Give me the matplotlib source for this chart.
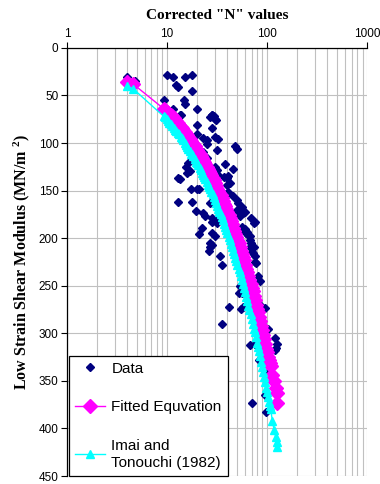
import matplotlib
matplotlib.use("Agg")
import matplotlib.pyplot as plt
from matplotlib.ticker import FixedLocator, LogLocator, NullFormatter

plt.rcParams["font.family"] = ["Liberation Sans", "DejaVu Sans"]
plt.rcParams["mathtext.default"] = "regular"

# measured points (corrected N, low strain shear modulus)
data_n = [4.0, 4.8, 9.9, 11.4, 12.2, 12.8, 15.1, 17.9, 17.9, 14.8, 15.1, 9.4,
          11.6, 19.8, 13.7, 26.9, 28.5, 30.5, 13.5, 30.9, 27.9, 29.5, 20.1, 28.5,
          20.1, 23.0, 24.9, 30.2, 32.6, 25.2, 47.9, 49.7, 31.8, 23.0, 24.9, 16.3,
          38.0, 30.2, 31.8, 45.3, 15.8, 15.6, 16.9, 12.9, 13.5, 39.8, 37.2, 32.6,
          41.0, 42.7, 40.0, 17.5, 19.8, 21.0, 26.9, 30.2, 36.5, 41.0, 46.2, 49.7,
          12.9, 18.0, 26.9, 51.5, 56.0, 19.5, 49.7, 52.8, 60.0, 23.0, 24.0, 28.5,
          53.7, 58.0, 69.8, 75.9, 30.2, 31.8, 28.5, 73.7, 22.2, 56.3, 60.0, 56.0,
          20.7, 28.5, 30.2, 62.4, 61.7, 64.9, 67.9, 67.6, 26.9, 69.8, 27.9, 26.9,
          67.6, 73.7, 26.3, 71.4, 72.8, 33.9, 75.9, 77.6, 75.9, 35.2, 82.0, 85.0,
          53.7, 52.8, 56.0, 95.5, 42.0, 54.9, 58.0, 35.8, 101.6, 67.6, 75.9, 80.0,
          120.0, 126.0, 120.0, 124.0, 83.8, 99.0, 71.4, 97.7, 95.5, 45.0, 50.0,
          65.0, 90.0, 100.0, 105.0, 60.0, 85.0, 33.0, 40.0]
data_g = [31, 35, 28, 31, 39, 41, 31, 28, 45, 55, 59, 55,
          64, 64, 71, 73, 71, 75, 70, 76, 70, 72, 81, 84,
          90, 95, 97, 94, 96, 101, 103, 106, 107, 109, 116, 121,
          122, 125, 128, 127, 132, 125, 129, 137, 138, 137, 136, 134,
          135, 142, 144, 148, 148, 148, 149, 151, 152, 151, 156, 160,
          162, 162, 163, 163, 167, 171, 170, 172, 173, 174, 177, 179,
          177, 174, 179, 183, 181, 184, 183, 184, 189, 188, 190, 191,
          196, 195, 198, 193, 195, 197, 198, 202, 205, 205, 207, 209,
          209, 209, 213, 214, 216, 219, 219, 226, 225, 228, 240, 245,
          250, 258, 258, 273, 272, 274, 272, 290, 295, 312, 311, 313,
          305, 311, 318, 315, 328, 342, 373, 383, 365, 185, 200,
          240, 290, 320, 330, 230, 270, 150, 165]

# fitted equation and Imai & Tonouchi (1982)
curve_n = [4.0, 4.6, 9.3, 9.6, 9.9, 10.2, 10.6, 10.9, 11.2, 11.7, 12.1, 12.4,
           12.8, 13.2, 13.7, 14.1, 14.5, 15.0, 15.6, 16.0, 16.4, 17.0, 17.5, 17.9,
           18.3, 19.0, 19.6, 20.0, 20.5, 21.2, 21.8, 22.4, 23.1, 23.6, 24.2, 25.0,
           25.7, 26.3, 27.0, 27.8, 28.6, 29.3, 30.1, 31.0, 31.9, 32.6, 33.4, 34.3,
           35.2, 36.2, 37.3, 38.1, 39.0, 40.2, 41.4, 42.4, 43.5, 44.6, 45.8, 47.0,
           48.3, 49.4, 50.6, 51.9, 53.2, 54.6, 56.1, 57.4, 58.8, 60.4, 62.0, 63.6,
           65.3, 66.8, 68.4, 70.2, 72.0, 73.8, 75.6, 77.5, 79.4, 81.2, 83.0, 85.1,
           87.2, 89.3, 91.5, 93.6, 95.8, 98.0, 100.3, 102.6, 104.9, 107.0, 109.0,
           113.0, 118.0, 122.0, 124.5, 127.0]
fit_g = [36, 38, 64, 65, 67, 68, 70, 71, 72, 74, 76, 77,
         79, 81, 83, 84, 86, 88, 91, 92, 94, 96, 98, 100,
         101, 103, 106, 107, 109, 112, 114, 116, 118, 120, 122, 125,
         127, 129, 132, 134, 137, 139, 142, 145, 148, 150, 152, 155,
         158, 161, 164, 166, 169, 173, 176, 179, 182, 185, 189, 192,
         196, 199, 202, 205, 209, 213, 217, 220, 223, 228, 232, 236,
         240, 244, 248, 252, 256, 261, 265, 270, 274, 278, 283, 287,
         292, 297, 302, 306, 311, 316, 320, 325, 328, 331, 334,
         344, 350, 357, 363, 373]
imai_g = [40, 43, 72, 73, 75, 77, 79, 80, 82, 84, 86, 87,
          89, 91, 94, 95, 97, 100, 102, 104, 106, 108, 111, 112,
          114, 117, 120, 121, 123, 126, 128, 131, 134, 136, 138, 141,
          144, 146, 148, 151, 154, 157, 160, 163, 166, 169, 172, 175,
          178, 181, 185, 188, 191, 195, 199, 202, 206, 209, 213, 217,
          221, 224, 228, 232, 236, 240, 244, 248, 252, 257, 262, 266,
          271, 275, 280, 285, 290, 295, 299, 304, 310, 314, 319, 324,
          330, 335, 341, 346, 351, 357, 362, 367, 372, 376, 380,
          392, 402, 409, 414, 420]

x_ticks = [1, 10, 100, 1000]
y_ticks = [0, 50, 100, 150, 200, 250, 300, 350, 400, 450]

fig = plt.figure(figsize=(3.8, 4.84), dpi=100)
ax = fig.add_axes([0.176, 0.0165, 0.79, 0.8845])

ax.plot(data_n, data_g, linestyle="none", marker="D", markersize=3.6,
        color="#000080", label="Data", zorder=2)
ax.plot(curve_n, fit_g, color="#ff00ff", marker="D", markersize=7,
        linewidth=1.0, label="Fitted Equvation", zorder=3)
ax.plot(curve_n, imai_g, color="#00ffff", marker="^", markersize=6,
        linewidth=1.0, label="Imai and\nTonouchi (1982)", zorder=4)

ax.set_xscale("log")
ax.set_xlim(1, 1000)
ax.set_ylim(450, 0)
ax.xaxis.set_major_locator(FixedLocator(x_ticks))
ax.set_xticklabels([str(t) for t in x_ticks])
ax.xaxis.set_minor_locator(LogLocator(base=10, subs=range(2, 10)))
ax.xaxis.set_minor_formatter(NullFormatter())
ax.set_yticks(y_ticks)
ax.xaxis.tick_top()
ax.xaxis.set_label_position("top")
ax.tick_params(axis="both", which="major", labelsize=8.5, length=4,
               width=0.8, direction="out", pad=2)
ax.tick_params(axis="x", which="minor", length=0)

ax.grid(True, which="major", color="#c0c0c0", linewidth=0.8)
ax.grid(True, which="minor", axis="x", color="#c0c0c0", linewidth=0.8)
ax.set_axisbelow(True)
for s in ["right", "bottom"]:
    ax.spines[s].set_visible(False)
for s in ["left", "top"]:
    ax.spines[s].set_linewidth(0.9)

ax.set_xlabel('Corrected "N" values', family="Liberation Serif",
              fontweight="bold", fontsize=11, labelpad=6)
ax.set_ylabel("Low Strain Shear Modulus (MN/m $^{2}$)", family="Liberation Serif",
              fontweight="bold", fontsize=11.5, labelpad=5)

leg = ax.legend(loc="lower left", bbox_to_anchor=(0.006, 0.0),
                borderaxespad=0, fontsize=11, frameon=True, fancybox=False,
                framealpha=1, edgecolor="black", labelspacing=1.6,
                handlelength=2.0, handletextpad=0.4, borderpad=0.4)
leg.get_frame().set_linewidth(0.9)
for t in leg.get_texts():
    t.set_linespacing(1.3)

fig.savefig("out.png", dpi=100)
